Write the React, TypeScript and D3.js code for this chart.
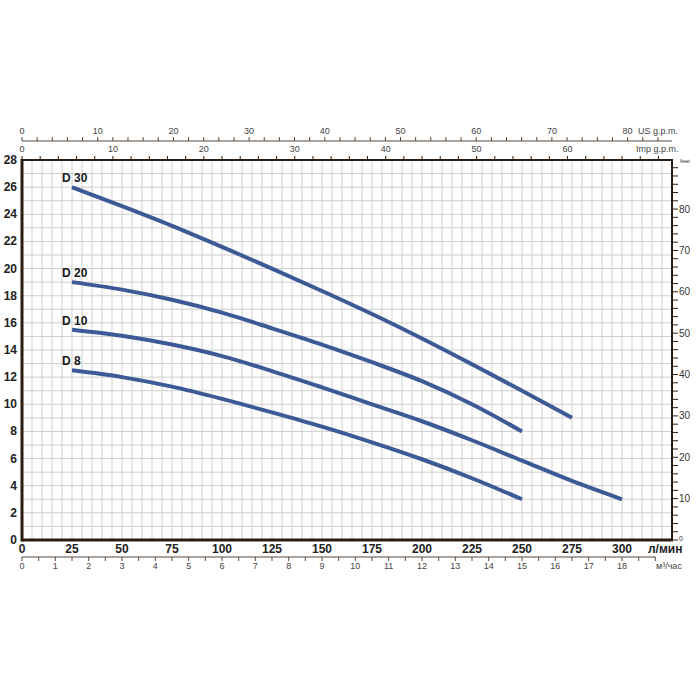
import { scaleLinear, line, curveMonotoneX, range } from "d3";

// flow (l/min) and head (m)
const flowD30 = [25, 50, 75, 100, 125, 150, 175, 200, 225, 250, 275];
const headD30 = [26.0, 24.6, 23.15, 21.6, 20.0, 18.35, 16.65, 14.85, 12.95, 11.0, 9.0];
const flowD20 = [25, 50, 75, 100, 125, 150, 175, 200, 225, 250];
const headD20 = [19.0, 18.45, 17.7, 16.75, 15.6, 14.4, 13.1, 11.7, 10.0, 8.0];
const flowD10 = [25, 50, 75, 100, 125, 150, 175, 200, 225, 250, 275, 300];
const headD10 = [15.5, 15.05, 14.4, 13.55, 12.45, 11.25, 10.0, 8.75, 7.35, 5.85, 4.35, 3.0];
const flowD8 = [25, 50, 75, 100, 125, 150, 175, 200, 225, 250];
const headD8 = [12.5, 12.0, 11.3, 10.4, 9.4, 8.35, 7.2, 5.95, 4.55, 3.0];

const seriesNames = ["D 30", "D 20", "D 10", "D 8"];
const seriesFlows = [flowD30, flowD20, flowD10, flowD8];
const seriesHeads = [headD30, headD20, headD10, headD8];

const lpmTicks = [0, 25, 50, 75, 100, 125, 150, 175, 200, 225, 250, 275, 300];
const headTicks = [0, 2, 4, 6, 8, 10, 12, 14, 16, 18, 20, 22, 24, 26, 28];
const feetLabels = [10, 20, 30, 40, 50, 60, 70, 80];
const usLabels = [0, 10, 20, 30, 40, 50, 60, 70, 80];
const impLabels = [0, 10, 20, 30, 40, 50, 60];
const m3Labels = [0, 1, 2, 3, 4, 5, 6, 7, 8, 9, 10, 11, 12, 13, 14, 15, 16, 17, 18];

const FONT = "'Liberation Sans Narrow', 'Liberation Sans', Arial, sans-serif";
const FRAME = "#2b1d12";
const LINE = "#3d5a96";

export default function App() {
  const x = scaleLinear().domain([0, 325]).range([22, 672]);
  const y = scaleLinear().domain([0, 28]).range([540, 160]);
  const maxFlow = 325;
  // secondary unit scales
  const xUs = scaleLinear().domain([0, maxFlow / 3.785]).range([22, 672]);
  const xImp = scaleLinear().domain([0, maxFlow / 4.546]).range([22, 672]);
  const xM3 = scaleLinear().domain([0, (maxFlow * 60) / 1000]).range([22, 672]);
  const yFt = scaleLinear().domain([0, 28 / 0.3048]).range([540, 160]);

  const path = line<[number, number]>()
    .x((d) => x(d[0]))
    .y((d) => y(d[1]))
    .curve(curveMonotoneX);

  const vGrid = range(5, 325, 5);
  const hGrid = range(1, 28, 1);

  return (
    <svg
      width={700}
      height={700}
      style={{ position: "absolute", left: 0, top: 0, background: "#fff" }}
      fontFamily={FONT}
    >
      {/* grid */}
      {vGrid.map((v) => (
        <line key={"v" + v} x1={x(v)} x2={x(v)} y1={y(0)} y2={y(28)} stroke="#cfcfcf" strokeWidth={1} />
      ))}
      {hGrid.map((v) => (
        <line key={"h" + v} x1={x(0)} x2={x(325)} y1={y(v)} y2={y(v)} stroke="#cfcfcf" strokeWidth={1} />
      ))}

      {/* frame */}
      <rect x={x(0)} y={y(28)} width={x(325) - x(0)} height={y(0) - y(28)} fill="none" stroke={FRAME} strokeWidth={2} />
      <line x1={x(0)} x2={x(0)} y1={y(28) - 1} y2={y(0) + 1.5} stroke={FRAME} strokeWidth={3} />
      <line x1={x(0)} x2={x(325) + 1} y1={y(0)} y2={y(0)} stroke={FRAME} strokeWidth={3} />

      {/* curves */}
      {seriesNames.map((name, i) => {
        const pts = seriesFlows[i].map((f, j) => [f, seriesHeads[i][j]] as [number, number]);
        return (
          <g key={name}>
            <path d={path(pts) || ""} fill="none" stroke={LINE} strokeWidth={4} />
            <text x={x(25) - 10} y={y(seriesHeads[i][0]) - 5} fontSize={12} fontWeight="bold" fill="#1a1a1a">
              {name}
            </text>
          </g>
        );
      })}

      {/* left axis (m) */}
      {headTicks.map((v) => (
        <text key={"l" + v} x={17} y={y(v) + 4} textAnchor="end" fontSize={12} fontWeight="bold" fill="#222">
          {v}
        </text>
      ))}

      {/* right axis (feet) */}
      {range(0, 92, 2).map((v) => (
        <line key={"ft" + v} x1={x(325)} x2={x(325) + 6} y1={yFt(v)} y2={yFt(v)} stroke={FRAME} strokeWidth={1} />
      ))}
      {feetLabels.map((v) => (
        <text key={"fl" + v} x={679} y={yFt(v) + 3.5} fontSize={10} fill="#333">
          {v}
        </text>
      ))}
      <text x={679} y={541} fontSize={7} fill="#333">0</text>
      <text x={680} y={163} fontSize={6} fill="#333">feet</text>

      {/* bottom axis (l/min) */}
      {lpmTicks.map((v) => (
        <text key={"b" + v} x={x(v)} y={553} textAnchor="middle" fontSize={12} fontWeight="bold" fill="#222">
          {v}
        </text>
      ))}
      <text x={648} y={553} fontSize={12} fontWeight="bold" fill="#222">л/мин</text>

      {/* bottom axis (m3/h) */}
      <line x1={xM3(0)} x2={xM3(19)} y1={557} y2={557} stroke="#5a4a3a" strokeWidth={1.2} />
      {range(0, 19.5, 0.5).map((v) => (
        <line key={"m" + v} x1={xM3(v)} x2={xM3(v)} y1={557} y2={561} stroke="#5a4a3a" strokeWidth={1} />
      ))}
      {m3Labels.map((v) => (
        <text key={"ml" + v} x={xM3(v)} y={569} textAnchor="middle" fontSize={9} fill="#444">
          {v}
        </text>
      ))}
      <text x={656} y={569} fontSize={9} fill="#444">м³/час</text>

      {/* top axis (US g.p.m.) */}
      <line x1={xUs(0)} x2={x(325)} y1={141} y2={141} stroke="#5a4a3a" strokeWidth={1.2} />
      {range(0, 86, 2).map((v) => (
        <line key={"us" + v} x1={xUs(v)} x2={xUs(v)} y1={137} y2={141} stroke="#5a4a3a" strokeWidth={1} />
      ))}
      {usLabels.map((v) => (
        <text key={"usl" + v} x={xUs(v)} y={134} textAnchor="middle" fontSize={9} fill="#444">
          {v}
        </text>
      ))}
      <text x={638} y={134} fontSize={9} fill="#444">US g.p.m.</text>

      {/* top axis (Imp g.p.m.) on frame top */}
      {range(0, 72, 2).map((v) => (
        <line key={"imp" + v} x1={xImp(v)} x2={xImp(v)} y1={y(28) - 4} y2={y(28)} stroke={FRAME} strokeWidth={1} />
      ))}
      {impLabels.map((v) => (
        <text key={"impl" + v} x={xImp(v)} y={152} textAnchor="middle" fontSize={9} fill="#444">
          {v}
        </text>
      ))}
      <text x={636} y={152} fontSize={9} fill="#444">Imp g.p.m.</text>
    </svg>
  );
}
